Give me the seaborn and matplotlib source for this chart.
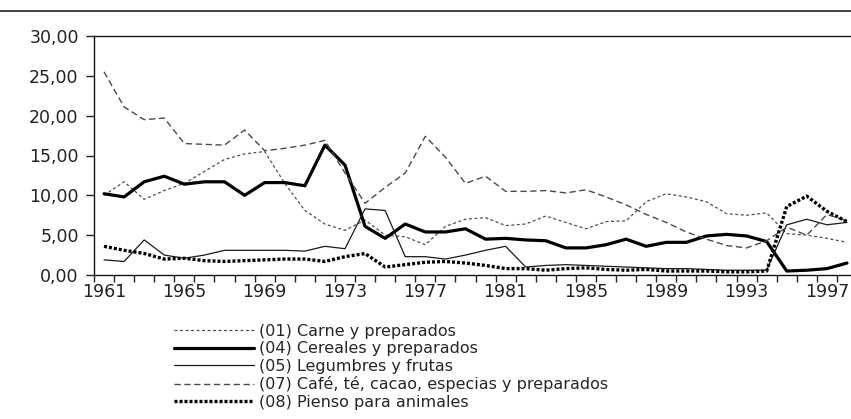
import numpy as np
import pandas as pd
import matplotlib
matplotlib.use("Agg")
import matplotlib.pyplot as plt
import seaborn as sns
from matplotlib.ticker import FixedLocator, FuncFormatter

sns.set_style("ticks")
plt.rcParams['font.family'] = ['DejaVu Sans']

years = list(range(1961, 1999))

carne = [10.0, 11.7, 9.5, 10.6, 11.5, 13.0, 14.5, 15.2, 15.5, 11.5,
         8.1, 6.4, 5.6, 6.9, 5.0, 4.8, 3.8, 6.1, 7.0, 7.2,
         6.2, 6.4, 7.4, 6.6, 5.8, 6.7, 6.8, 9.2, 10.2, 9.8,
         9.2, 7.7, 7.5, 7.8, 5.2, 5.0, 4.6, 4.1]
cereales = [10.2, 9.8, 11.7, 12.4, 11.4, 11.7, 11.7, 10.0, 11.6, 11.6,
            11.2, 16.3, 13.8, 6.1, 4.6, 6.4, 5.4, 5.4, 5.8, 4.5,
            4.6, 4.4, 4.3, 3.4, 3.4, 3.8, 4.5, 3.6, 4.1, 4.1,
            4.9, 5.1, 4.9, 4.2, 0.5, 0.6, 0.8, 1.5]
legumbres = [1.9, 1.7, 4.4, 2.5, 2.1, 2.5, 3.1, 3.1, 3.1, 3.1,
             3.0, 3.6, 3.3, 8.3, 8.1, 2.3, 2.3, 2.0, 2.5, 3.1,
             3.6, 1.0, 1.2, 1.3, 1.2, 1.1, 1.0, 0.9, 0.8, 0.8,
             0.7, 0.6, 0.6, 0.6, 6.3, 7.0, 6.3, 6.6]
cafe = [25.5, 21.1, 19.5, 19.7, 16.5, 16.4, 16.3, 18.2, 15.6, 15.9,
        16.3, 16.9, 12.8, 9.0, 11.0, 12.8, 17.4, 14.8, 11.5, 12.4,
        10.5, 10.5, 10.6, 10.3, 10.7, 9.8, 8.8, 7.6, 6.6, 5.4,
        4.5, 3.7, 3.4, 4.3, 6.0, 5.0, 7.6, 6.8]
pienso = [3.6, 3.1, 2.7, 2.0, 2.1, 1.8, 1.7, 1.8, 1.9, 2.0,
          2.0, 1.7, 2.3, 2.7, 1.0, 1.3, 1.6, 1.7, 1.5, 1.2,
          0.8, 0.8, 0.6, 0.8, 0.9, 0.7, 0.6, 0.7, 0.5, 0.5,
          0.5, 0.4, 0.4, 0.5, 8.6, 9.9, 8.0, 6.7]

labels = ["(01) Carne y preparados",
          "(04) Cereales y preparados",
          "(05) Legumbres y frutas",
          "(07) Café, té, cacao, especias y preparados",
          "(08) Pienso para animales"]
year_labels = list(range(1961, 1998, 4))

df = pd.concat([
    pd.DataFrame({"year": years, "value": vals, "serie": name})
    for name, vals in zip(labels, [carne, cereales, legumbres, cafe, pienso])
])

palette = dict(zip(labels, ["#505050", "#000000", "#1a1a1a", "#4a4a4a", "#000000"]))
dashes = dict(zip(labels, [(2.4, 2.0), "", "", (4.5, 2.6), (0.9, 0.6)]))
sizes = dict(zip(labels, [0.9, 2.3, 0.9, 1.0, 2.4]))

fig = plt.figure(figsize=(8.51, 4.19), dpi=100)
ax = fig.add_axes([94 / 851, 1 - 275 / 419, 1 - 94 / 851, 239 / 419])

sns.lineplot(data=df, x="year", y="value", hue="serie", style="serie", size="serie",
             palette=palette, dashes=dashes, sizes=sizes, hue_order=labels,
             style_order=labels, size_order=labels, legend=False, ax=ax)

ax.set_xlim(1960.5, 1998.2)
ax.set_ylim(0, 30)
ax.set_xlabel("")
ax.set_ylabel("")

ax.xaxis.set_major_locator(FixedLocator(year_labels))
ax.xaxis.set_minor_locator(FixedLocator(np.arange(1960.5, 1998, 1)))
ax.tick_params(axis="x", which="major", length=0, pad=6, labelsize=12.5, colors="#222222")
ax.tick_params(axis="x", which="minor", length=5, width=1, direction="out", color="#222222")
ax.yaxis.set_major_locator(FixedLocator([0, 5, 10, 15, 20, 25, 30]))
ax.yaxis.set_major_formatter(FuncFormatter(lambda v, p: f"{v:.2f}".replace(".", ",")))
ax.tick_params(axis="y", length=6, width=1, direction="out", pad=5, labelsize=12.5, colors="#222222")

for side in ["left", "bottom", "top"]:
    ax.spines[side].set_linewidth(1.0)
    ax.spines[side].set_color("#111111")
ax.spines["right"].set_visible(False)

# line across the top of the figure
fig.add_artist(plt.Line2D([0, 1], [1 - 11 / 419, 1 - 11 / 419], color="#333333", lw=1.3))

fig.legend(handles=ax.lines[:5], labels=labels, loc="upper left",
           bbox_to_anchor=(174 / 851, 1 - 324 / 419), frameon=False,
           fontsize=11.5, handlelength=5.0, handletextpad=0.3,
           labelspacing=0.15, borderpad=0, borderaxespad=0)

fig.savefig("out.png", dpi=100)
